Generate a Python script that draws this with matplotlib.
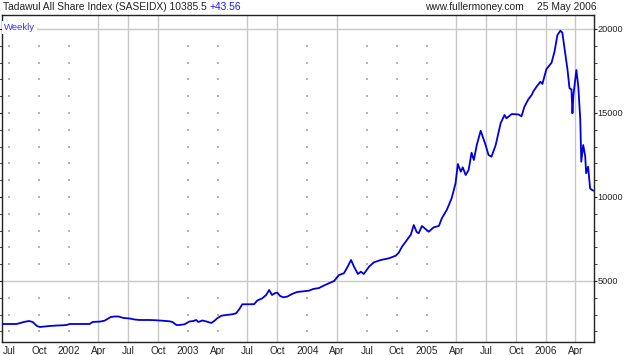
import numpy as np
import pandas as pd
import matplotlib
matplotlib.use("Agg")
import matplotlib.pyplot as plt
from matplotlib.ticker import FuncFormatter

plt.rcParams["font.family"] = ["Liberation Sans", "DejaVu Sans"]

# weekly close
dates = [
    "2001-06-10", "2001-07-25", "2001-08-16", "2001-08-31", "2001-09-12", "2001-09-25",
    "2001-10-04", "2001-10-19", "2001-11-03", "2001-11-25", "2001-12-13", "2001-12-25",
    "2002-01-03", "2002-02-03", "2002-03-05", "2002-03-15", "2002-03-27", "2002-04-05",
    "2002-04-20", "2002-04-29", "2002-05-09", "2002-05-21", "2002-06-02", "2002-06-17",
    "2002-07-06", "2002-07-21", "2002-08-05", "2002-09-05", "2002-09-26", "2002-10-14",
    "2002-11-05", "2002-11-14", "2002-11-26", "2002-12-05", "2002-12-21", "2003-01-05",
    "2003-01-17", "2003-01-26", "2003-02-01", "2003-02-14", "2003-02-26", "2003-03-13",
    "2003-03-22", "2003-03-31", "2003-04-13", "2003-04-28", "2003-05-16", "2003-05-28",
    "2003-06-07", "2003-06-16", "2003-07-07", "2003-07-22", "2003-08-01", "2003-08-16",
    "2003-08-28", "2003-09-06", "2003-09-15", "2003-09-25", "2003-10-01", "2003-10-10",
    "2003-10-19", "2003-10-31", "2003-11-15", "2003-12-01", "2003-12-19", "2004-01-06",
    "2004-01-19", "2004-02-06", "2004-02-21", "2004-03-07", "2004-03-23", "2004-04-07",
    "2004-04-22", "2004-05-01", "2004-05-14", "2004-05-23", "2004-06-04", "2004-06-13",
    "2004-06-22", "2004-07-08", "2004-07-23", "2004-08-13", "2004-09-07", "2004-09-28",
    "2004-10-07", "2004-10-17", "2004-11-01", "2004-11-13", "2004-11-22", "2004-12-01",
    "2004-12-07", "2004-12-17", "2004-12-29", "2005-01-07", "2005-01-22", "2005-02-07",
    "2005-02-16", "2005-03-03", "2005-03-18", "2005-03-30", "2005-04-06", "2005-04-15",
    "2005-04-21", "2005-04-30", "2005-05-09", "2005-05-18", "2005-05-25", "2005-06-03",
    "2005-06-15", "2005-06-30", "2005-07-09", "2005-07-18", "2005-07-31", "2005-08-15",
    "2005-08-27", "2005-09-02", "2005-09-18", "2005-10-09", "2005-10-18", "2005-10-27",
    "2005-11-08", "2005-11-18", "2005-11-24", "2005-12-03", "2005-12-15", "2005-12-21",
    "2006-01-02", "2006-01-18", "2006-01-27", "2006-02-05", "2006-02-14", "2006-02-20",
    "2006-03-01", "2006-03-08", "2006-03-14", "2006-03-20", "2006-03-23", "2006-03-26",
    "2006-04-01", "2006-04-04", "2006-04-10", "2006-04-16", "2006-04-19", "2006-04-25",
    "2006-05-01", "2006-05-04", "2006-05-10", "2006-05-16", "2006-05-19", "2006-05-25",
]
values = [
    2441, 2441, 2560, 2619, 2560, 2322,
    2262, 2292, 2322, 2351, 2363, 2381,
    2441, 2441, 2441, 2560, 2578, 2578,
    2637, 2738, 2857, 2887, 2887, 2798,
    2768, 2708, 2679, 2679, 2661, 2637,
    2601, 2560, 2381, 2381, 2423, 2589,
    2619, 2679, 2560, 2649, 2589, 2500,
    2619, 2780, 2935, 2976, 3018, 3077,
    3333, 3613, 3619, 3619, 3839, 3970,
    4167, 4464, 4167, 4286, 4304, 4107,
    4030, 4066, 4226, 4345, 4387, 4423,
    4524, 4583, 4732, 4863, 5000, 5357,
    5458, 5756, 6250, 5851, 5417, 5554,
    5417, 5851, 6113, 6250, 6351, 6506,
    6684, 7042, 7440, 7756, 8333, 7917,
    7839, 8274, 8077, 7934, 8196, 8274,
    8732, 9226, 9922, 10815, 11964, 11506,
    11768, 11309, 11607, 12637, 12202, 13095,
    13946, 13095, 12500, 12399, 13095, 14387,
    14880, 14684, 14940, 14910, 14803, 15375,
    15815, 16071, 16309, 16565, 16863, 16726,
    17600, 17993, 18648, 19642, 19898, 19779,
    18553, 17559, 16470, 16410, 14982, 16071,
    17065, 17559, 16565, 14583, 12101, 13095,
    12440, 11410, 11803, 10518, 10458, 10385.5,
]

# quarter gridlines: solid ones and the dotted ones
solid_quarters = ["2002-04-01", "2002-07-01", "2002-10-01", "2003-07-01", "2003-10-01",
                  "2004-04-01", "2005-04-01", "2005-07-01", "2005-10-01", "2006-01-01",
                  "2006-04-01"]
dotted_quarters = ["2001-07-01", "2001-10-01", "2002-01-01", "2003-01-01", "2003-04-01",
                   "2004-01-01", "2004-07-01", "2004-10-01", "2005-01-01"]
solid_levels = [5000, 20000]

dates = pd.to_datetime(dates)

fig = plt.figure(figsize=(6.24, 3.55), dpi=100)
ax = fig.add_axes([2 / 624, 13 / 355, 592 / 624, 327 / 355])

ax.set_xlim(pd.Timestamp("2001-06-10"), pd.Timestamp("2006-05-28"))
ax.set_ylim(1369, 20833)

grid_col = "#c8c8c8"
for q in solid_quarters:
    ax.axvline(pd.Timestamp(q), color=grid_col, lw=1, zorder=1)
for lv in solid_levels:
    ax.axhline(lv, color=grid_col, lw=1, zorder=1)

# dotted grid: dots at every 1000 on the remaining quarters
dot_x = []
dot_y = []
for q in dotted_quarters:
    for lv in range(2000, 21000, 1000):
        if lv in solid_levels:
            continue
        dot_x.append(pd.Timestamp(q))
        dot_y.append(lv)
ax.scatter(dot_x, dot_y, s=1.2, color="#b4b4b4", marker="s", linewidths=0, zorder=1)

ax.plot(dates, values, color="#0000dd", lw=1.3, zorder=3)

# x ticks: quarters, labelled by month or year
quarters = pd.date_range("2001-07-01", "2006-04-01", freq="QS-JAN")
labels = []
for d in quarters:
    if d.month == 1:
        labels.append(str(d.year))
    else:
        labels.append(d.strftime("%b"))
ax.set_xticks(quarters)
ax.set_xticklabels(labels)
ax.tick_params(axis="x", length=0, pad=3, labelsize=7.2, colors="#222222")

ax.set_yticks([5000, 10000, 15000, 20000])
ax.set_yticks(np.arange(2000, 21000, 1000), minor=True)
ax.yaxis.set_major_formatter(FuncFormatter(lambda v, p: f"{int(v)}"))
ax.tick_params(axis="y", which="both", left=True, right=True, labelleft=False,
               labelright=True, direction="out", colors="#222222", labelsize=6.6, pad=0)
ax.tick_params(axis="y", which="major", length=2.5)
ax.tick_params(axis="y", which="minor", length=2.5)

for s in ax.spines.values():
    s.set_color("#222222")
    s.set_linewidth(1)

# header texts
t1 = fig.text(3 / 624, 1 - 7 / 355, "Tadawul All Share Index (SASEIDX) 10385.5 ",
              fontsize=7.4, color="#222222", va="center", ha="left")
ax.annotate("+43.56", xy=(1, 0.5), xycoords=t1, va="center", ha="left",
            fontsize=7.4, color="#1a1aff")
fig.text(474 / 624, 1 - 7 / 355, "www.fullermoney.com", fontsize=7.4,
         color="#222222", va="center", ha="center")
fig.text(597 / 624, 1 - 7 / 355, "25 May 2006", fontsize=7.4,
         color="#222222", va="center", ha="right")

ax.text(0.004, 0.975, "Weekly", transform=ax.transAxes, fontsize=6.8, color="#3333ff",
        va="top", ha="left", zorder=4,
        bbox=dict(facecolor="white", edgecolor="none", pad=1.5))

fig.savefig("out.png", dpi=100)
